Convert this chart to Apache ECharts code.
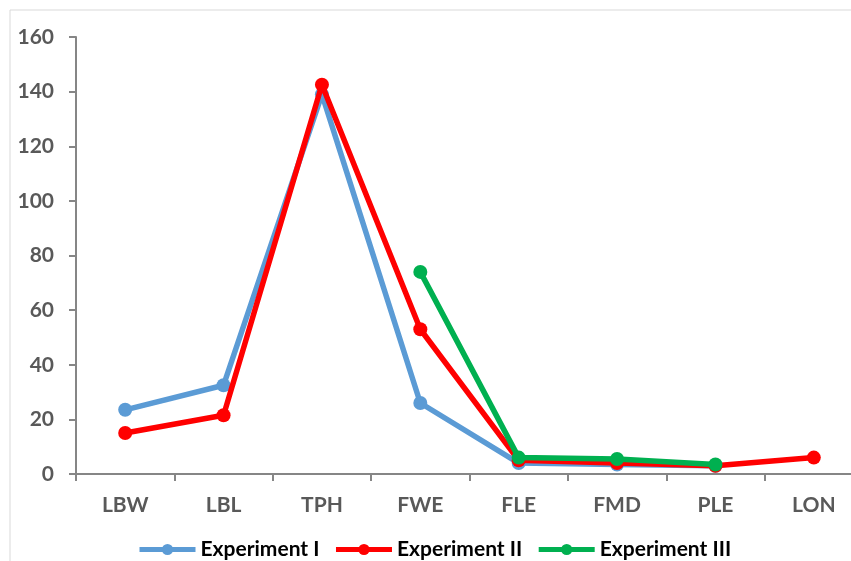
<!DOCTYPE html>
<html><head><meta charset="utf-8">
<script src="https://cdn.jsdelivr.net/npm/echarts@6/dist/echarts.min.js"></script>
<style>html,body{margin:0;padding:0;background:#fff;overflow:hidden}#c{width:863px;height:561px}</style>
</head><body><div id="c"></div>
<script>
const categories = ['LBW','LBL','TPH','FWE','FLE','FMD','PLE','LON'];
const exp1 = [23.5, 32.5, 139, 26, 4, 3.5, 3, null];
const exp2 = [15, 21.5, 142.5, 53, 5, 4, 3, 6];
const exp3 = [null, null, null, 74, 6, 5.5, 3.5, null];
const yTicks = [0, 20, 40, 60, 80, 100, 120, 140, 160];
const names = ['Experiment I','Experiment II','Experiment III'];
const colors = ['#5B9BD5','#FF0000','#00B050'];
const font = 'Lato, "Open Sans", sans-serif';
const chart = echarts.init(document.getElementById('c'));
const mk = (name, data, color, z) => ({
  name, type:'line', data, z,
  symbol:'circle', symbolSize:14, connectNulls:false,
  lineStyle:{width:5.5, color}, itemStyle:{color},
  emphasis:{disabled:true}
});
chart.setOption({
  animation:false,
  graphic:[{type:'rect', shape:{x:10,y:10,width:880,height:560}, style:{fill:'none', stroke:'#d9d9d9', lineWidth:1}, silent:true}],
  grid:{left:76, top:37, right:0, bottom:87, containLabel:false},
  legend:{
    top:539, left:137, itemWidth:56, itemHeight:14, itemGap:14, padding:0,
    lineStyle:{width:5},
    textStyle:{fontFamily:font, fontWeight:'bold', fontSize:21, color:'#000'},
    data:names
  },
  xAxis:{
    type:'category', data:categories, boundaryGap:true,
    axisLine:{lineStyle:{color:'#868686', width:2}},
    axisTick:{show:true, length:7, lineStyle:{color:'#868686', width:2}},
    axisLabel:{fontFamily:font, fontWeight:'bold', fontSize:21, color:'#595959', margin:21}
  },
  yAxis:{
    type:'value', min:yTicks[0], max:yTicks[yTicks.length-1], interval:20,
    splitLine:{show:false},
    axisLine:{show:true, lineStyle:{color:'#868686', width:2}},
    axisTick:{show:true, inside:false, length:7, lineStyle:{color:'#868686', width:2}},
    axisLabel:{fontFamily:font, fontWeight:'bold', fontSize:21, color:'#595959', margin:22}
  },
  series:[mk(names[0], exp1, colors[0], 2), mk(names[1], exp2, colors[1], 3), mk(names[2], exp3, colors[2], 4)]
});
</script></body></html>
